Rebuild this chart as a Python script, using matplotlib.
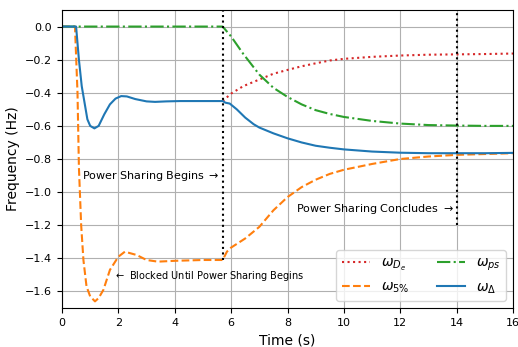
import matplotlib
matplotlib.use("Agg")
import matplotlib.pyplot as plt

# Data
t_delta = [0, 0.5, 0.6, 0.7, 0.8, 0.9, 1.0, 1.15, 1.3, 1.5, 1.7, 1.9, 2.1, 2.3, 2.6, 3.0, 3.3, 3.7, 4.2, 5.0, 5.7,
           5.8, 5.95, 6.2, 6.5, 6.8, 7.0, 7.5, 8.0, 8.5, 9.0, 9.5, 10, 11, 12, 13, 14, 15, 16]
w_delta = [0, 0, -0.2, -0.36, -0.46, -0.56, -0.6, -0.615, -0.6, -0.53, -0.47, -0.435, -0.42, -0.422, -0.438, -0.452,
           -0.455, -0.452, -0.45, -0.45, -0.45, -0.46, -0.465, -0.50, -0.55, -0.59, -0.61, -0.645, -0.675, -0.70,
           -0.72, -0.732, -0.742, -0.755, -0.762, -0.765, -0.765, -0.765, -0.763]

t_5 = [0, 0.46, 0.55, 0.6, 0.68, 0.76, 0.87, 1.0, 1.17, 1.3, 1.47, 1.7, 2.0, 2.23, 2.65, 3.0, 3.4, 4.0, 5.0, 5.7,
       5.85, 6.0, 6.5, 7.0, 7.5, 8.0, 8.5, 9.0, 9.5, 10, 11, 12, 13, 14, 15, 16]
w_5 = [0, 0, -0.4, -0.85, -1.2, -1.41, -1.57, -1.63, -1.66, -1.64, -1.59, -1.47, -1.39, -1.36, -1.38, -1.41, -1.42,
       -1.415, -1.41, -1.41, -1.36, -1.335, -1.28, -1.21, -1.11, -1.03, -0.97, -0.925, -0.89, -0.865, -0.83, -0.80,
       -0.785, -0.775, -0.77, -0.765]

t_ps = [0, 5.7, 6.0, 6.43, 7.0, 7.5, 8.0, 8.5, 9.0, 9.5, 10, 11, 12, 13, 14, 15, 16]
w_ps = [0, 0, -0.06, -0.165, -0.29, -0.37, -0.425, -0.47, -0.505, -0.528, -0.546, -0.57, -0.586, -0.595, -0.598,
        -0.6, -0.6]

t_de = [5.7, 6.0, 6.43, 7.0, 7.5, 8.0, 8.5, 9.0, 9.5, 10, 11, 12, 13, 14, 15, 16]
w_de = [-0.45, -0.405, -0.36, -0.32, -0.285, -0.262, -0.24, -0.222, -0.205, -0.195, -0.183, -0.175, -0.17, -0.168,
        -0.166, -0.163]

t_begin = 5.7
t_end = 14.0

fig = plt.figure(figsize=(5.18, 3.47), dpi=100)
ax = fig.add_axes([62 / 518, 1 - 308 / 347, (513 - 62) / 518, (308 - 10) / 347])
ax.plot(t_de, w_de, ':', color='#d62728', lw=1.5, label=r'$\omega_{D_e}$')
ax.plot(t_5, w_5, '--', color='#ff7f0e', lw=1.5, label=r'$\omega_{5\%}$')
ax.plot(t_ps, w_ps, '-.', color='#2ca02c', lw=1.5, label=r'$\omega_{ps}$')
ax.plot(t_delta, w_delta, '-', color='#1f77b4', lw=1.5, label=r'$\omega_{\Delta}$')

ax.vlines(t_begin, -1.41, 0.1, colors='black', linestyles=':', lw=1.5)
ax.vlines(t_end, -1.2, 0.1, colors='black', linestyles=':', lw=1.5)

ax.text(5.6, -0.905, 'Power Sharing Begins $\\rightarrow$', ha='right', va='center', fontsize=8)
ax.text(13.9, -1.105, 'Power Sharing Concludes $\\rightarrow$', ha='right', va='center', fontsize=8)
ax.text(1.85, -1.505, '$\\leftarrow$ Blocked Until Power Sharing Begins', ha='left', va='center', fontsize=7)

ax.set_xlim(0, 16)
ax.set_ylim(-1.7, 0.1)
ax.set_xticks([0, 2, 4, 6, 8, 10, 12, 14, 16])
ax.set_yticks([0.0, -0.2, -0.4, -0.6, -0.8, -1.0, -1.2, -1.4, -1.6])
ax.tick_params(labelsize=8)
ax.grid(True, color='#b0b0b0', lw=0.8)
ax.set_xlabel('Time (s)', fontsize=10)
ax.set_ylabel('Frequency (Hz)', fontsize=10)
ax.legend(loc='lower right', ncol=2, fontsize=10)

fig.savefig('out.png', dpi=100)
